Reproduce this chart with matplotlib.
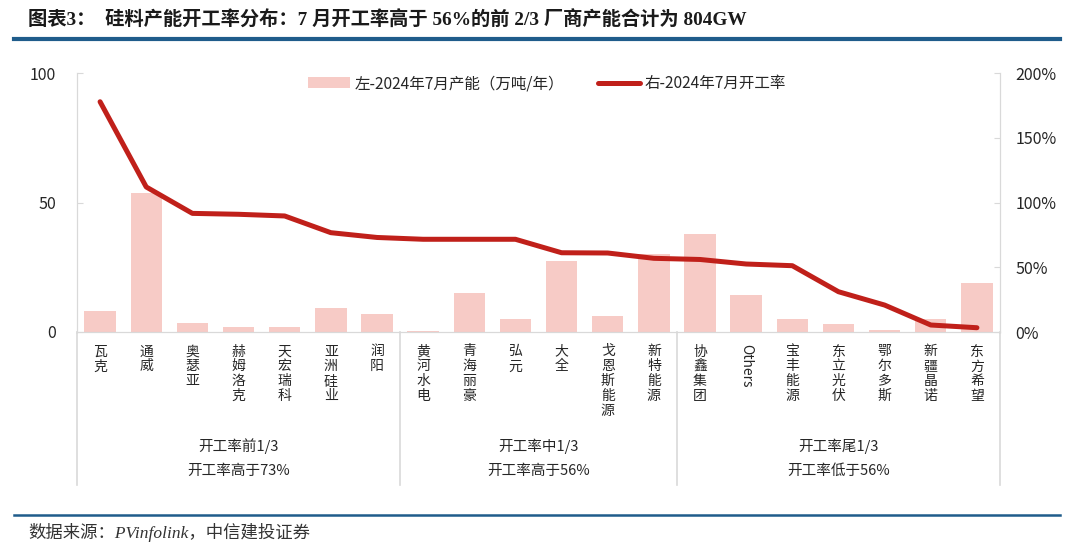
import numpy as np
import matplotlib as mpl
mpl.use('Agg')
import matplotlib.pyplot as plt
from matplotlib.lines import Line2D
import matplotlib.transforms as mtransforms

plt.rcParams['font.family'] = ['Noto Sans CJK SC', 'DejaVu Sans']

# data
companies = ['瓦克', '通威', '奥瑟亚', '赫姆洛克', '天宏瑞科', '亚洲硅业', '润阳',
             '黄河水电', '青海丽豪', '弘元', '大全', '戈恩斯能源', '新特能源',
             '协鑫集团', 'Others', '宝丰能源', '东立光伏', '鄂尔多斯', '新疆晶诺', '东方希望']
capacity = [8.2, 53.5, 3.6, 2.1, 2.0, 9.1, 7.0,
            0.3, 15.2, 5.0, 27.5, 6.2, 30.0,
            38.0, 14.3, 5.0, 3.1, 0.8, 5.0, 19.0]
util_rate = [177.8, 112.0, 91.6, 90.9, 89.6, 76.7, 73.0,
             71.6, 71.6, 71.6, 61.2, 61.0, 56.9,
             56.0, 52.5, 51.2, 31.1, 20.8, 5.4, 3.3]
groups = [('开工率前1/3', '开工率高于73%'), ('开工率中1/3', '开工率高于56%'),
          ('开工率尾1/3', '开工率低于56%')]
group_sizes = [7, 6, 7]

bar_c = '#F7CBC6'
line_c = '#C0201A'
grid_c = '#D9D9D9'
txt_c = '#262626'
blue = '#1F5C8B'

fig = plt.figure(figsize=(10.8, 5.51), dpi=100)
ax = fig.add_axes([77/1080, 1-332/551, 923/1080, 259/551])
ax2 = ax.twinx()

x = np.arange(len(companies))
bars = ax.bar(x, capacity, width=0.68, color=bar_c, zorder=1)
ln, = ax2.plot(x, util_rate, color=line_c, lw=3.6, solid_capstyle='round', zorder=3)

ax.set_xlim(-0.5, len(companies)-0.5)
ax.set_ylim(0, 100)
ax2.set_ylim(0, 200)
ax.set_yticks([0, 50, 100])
ax2.set_yticks([0, 50, 100, 150, 200])
ax2.set_yticklabels(['%d%%' % v for v in [0, 50, 100, 150, 200]])

for a in (ax, ax2):
    for s in a.spines.values():
        s.set_color(grid_c)
    a.spines['top'].set_visible(False)
    a.tick_params(axis='y', colors=grid_c, labelcolor=txt_c, labelsize=11.5,
                  length=4, direction='in')
ax.tick_params(axis='y', pad=15)
ax2.tick_params(axis='y', pad=11)

# vertical category labels
ax.set_xticks(x)
labels = []
for name in companies:
    labels.append(name if name == 'Others' else '\n'.join(name))
ax.set_xticklabels(labels, fontsize=10, color=txt_c, va='top', linespacing=1.08)
for t in ax.get_xticklabels():
    if t.get_text() == 'Others':
        t.set_rotation(-90)
ax.tick_params(axis='x', length=0, pad=9)

# group separators and labels
trans = mtransforms.blended_transform_factory(ax.transData, ax.transAxes)
bounds = np.concatenate([[0], np.cumsum(group_sizes)]) - 0.5
for b in bounds:
    ax.add_line(Line2D([b, b], [0, -0.59], transform=trans, color=grid_c, lw=1.2, clip_on=False))
for i, (l1, l2) in enumerate(groups):
    cx = (bounds[i] + bounds[i+1]) / 2
    ax.text(cx, -0.44, l1, transform=trans, ha='center', va='center', fontsize=10.5, color=txt_c)
    ax.text(cx, -0.535, l2, transform=trans, ha='center', va='center', fontsize=10.5, color=txt_c)

ax.legend([bars, ln], ['左-2024年7月产能（万吨/年）', '右-2024年7月开工率'],
          loc='upper center', bbox_to_anchor=(0.509, 1.045), ncol=2, frameon=False,
          fontsize=11.2, handlelength=2.7, handletextpad=0.3, columnspacing=2.2,
          labelcolor=txt_c)

# title, rules and source
fig.text(28/1080, 1-20/551, '图表3：  硅料产能开工率分布：7 月开工率高于 56%的前 2/3 厂商产能合计为 804GW',
         family=['Liberation Serif', 'Noto Sans CJK SC'], fontweight='bold', fontsize=13.9,
         color='#1a1a1a', va='center', ha='left')
fig.add_artist(Line2D([14/1080, 1060/1080], [1-39/551, 1-39/551], color=blue, lw=3))
fig.add_artist(Line2D([14/1080, 1060/1080], [1-515/551, 1-515/551], color=blue, lw=1.8))
fig.text(28/1080, 1-533/551, '数据来源：PVinfolink，中信建投证券',
         family=['Liberation Serif', 'Noto Sans CJK SC'], style='italic', fontsize=12.5,
         color='#333333', va='center', ha='left')

plt.savefig('out.png', dpi=100)
plt.close()
